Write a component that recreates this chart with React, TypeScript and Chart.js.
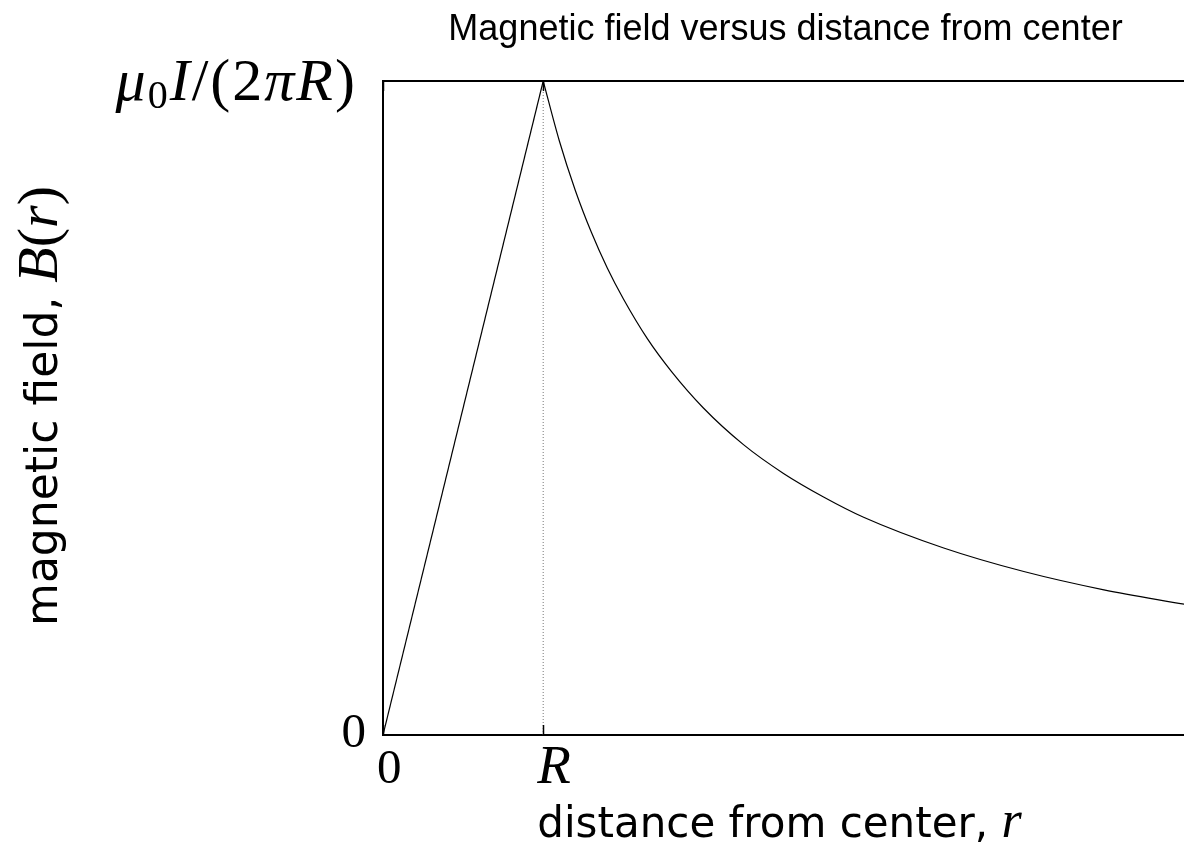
import { useEffect, useRef } from "react";
import { Chart, registerables } from "chart.js";

Chart.register(...registerables);

// Inside the wire: distance from the axis (units of R) and field (units of mu0 I / (2 pi R))
const insideRadius = [0, 1];
const insideField = [0, 1];

// Outside the wire
const outsideRadius = [1, 1.1, 1.2, 1.3, 1.4, 1.5, 1.65, 1.8, 2, 2.25, 2.5, 2.75, 3, 3.5, 4, 4.5, 5];
const outsideField = [1, 0.909, 0.833, 0.769, 0.714, 0.667, 0.606, 0.556, 0.5, 0.444, 0.4, 0.364, 0.333, 0.286, 0.25, 0.222, 0.2];

// Marker for the wire surface
const surfaceRadius = [1, 1];
const surfaceField = [0, 1];

const xRange = [0, 5];
const yRange = [0, 1];
const xTickValues = [0, 1];
const yTickValues = [0, 1];

type Run = { t: string; font: string; dy?: number };

const SERIF = '"Liberation Serif", serif';
const SANS = '"DejaVu Sans", sans-serif';
const TITLE_FONT = '36px "Liberation Sans", Arial, sans-serif';

const xTickLabels: Run[][] = [
  [{ t: "0", font: `49px ${SERIF}` }],
  [{ t: "R", font: `italic 55px ${SERIF}` }],
];

const yTickLabels: Run[][] = [
  [{ t: "0", font: `49px ${SERIF}` }],
  [
    { t: "μ", font: `italic 60px ${SERIF}` },
    { t: "0", font: `40px ${SERIF}`, dy: 8 },
    { t: "I", font: `italic 60px ${SERIF}` },
    { t: "/", font: `60px ${SERIF}` },
    { t: "(", font: `60px ${SERIF}` },
    { t: "2", font: `60px ${SERIF}` },
    { t: "π", font: `italic 60px ${SERIF}` },
    { t: "R", font: `italic 60px ${SERIF}` },
    { t: ")", font: `60px ${SERIF}` },
  ],
];

const titleText = "Magnetic field versus distance from center";

const xAxisTitle: Run[] = [
  { t: "distance from center, ", font: `42px ${SANS}` },
  { t: "r", font: `italic 52px ${SERIF}` },
];

const yAxisTitle: Run[] = [
  { t: "magnetic field, ", font: `44px ${SANS}` },
  { t: "B", font: `italic 58px ${SERIF}` },
  { t: "(", font: `58px ${SERIF}` },
  { t: "r", font: `italic 58px ${SERIF}` },
  { t: ")", font: `58px ${SERIF}` },
];

function runsWidth(ctx: CanvasRenderingContext2D, runs: Run[], gap = 0) {
  let w = 0;
  runs.forEach((r, i) => {
    ctx.font = r.font;
    w += ctx.measureText(r.t).width + (i > 0 ? gap : 0);
  });
  return w;
}

function drawRuns(
  ctx: CanvasRenderingContext2D,
  runs: Run[],
  x: number,
  y: number,
  align: "left" | "center" | "right",
  gap = 0
) {
  const w = runsWidth(ctx, runs, gap);
  let cx = align === "left" ? x : align === "center" ? x - w / 2 : x - w;
  ctx.textAlign = "left";
  ctx.textBaseline = "alphabetic";
  runs.forEach((r, i) => {
    if (i > 0) cx += gap;
    ctx.font = r.font;
    ctx.fillText(r.t, cx, y + (r.dy || 0));
    cx += ctx.measureText(r.t).width;
  });
}

const decorations = {
  id: "decorations",
  afterDraw(chart: any) {
    const { ctx, chartArea: a, scales } = chart;
    const xs = scales.x;
    const ys = scales.y;
    ctx.save();
    ctx.fillStyle = "#000";
    ctx.strokeStyle = "#000";

    // top frame line
    ctx.lineWidth = 2;
    ctx.beginPath();
    ctx.moveTo(a.left, a.top);
    ctx.lineTo(a.right, a.top);
    ctx.stroke();

    // inward tick marks on the bottom and top edges
    ctx.lineWidth = 1.5;
    xTickValues.forEach((v) => {
      const px = Math.round(xs.getPixelForValue(v)) + 0.5;
      ctx.beginPath();
      ctx.moveTo(px, a.bottom);
      ctx.lineTo(px, a.bottom - 10);
      ctx.moveTo(px, a.top);
      ctx.lineTo(px, a.top + 10);
      ctx.stroke();
    });

    // x tick labels
    xTickValues.forEach((v, i) => {
      const px = xs.getPixelForValue(v);
      drawRuns(ctx, xTickLabels[i], px - 6, a.bottom + 48, "left");
    });

    // y tick labels
    yTickValues.forEach((v, i) => {
      const py = ys.getPixelForValue(v);
      const lab = yTickLabels[i];
      if (lab.length > 1) {
        drawRuns(ctx, lab, a.left - 28, py + 19, "right", 2);
      } else {
        drawRuns(ctx, lab, a.left - 17, py + 12, "right");
      }
    });

    // chart title
    ctx.font = TITLE_FONT;
    ctx.textAlign = "center";
    ctx.textBaseline = "alphabetic";
    const midX = (a.left + a.right) / 2;
    ctx.fillText(titleText, midX + 2, 40);

    // x axis title
    drawRuns(ctx, xAxisTitle, midX - 4, a.bottom + 102, "center");

    // y axis title, rotated
    const midY = (a.top + a.bottom) / 2;
    ctx.translate(57, midY - 2);
    ctx.rotate(-Math.PI / 2);
    drawRuns(ctx, yAxisTitle, 0, 0, "center");

    ctx.restore();
  },
};

export default function App() {
  const canvasRef = useRef<HTMLCanvasElement | null>(null);

  useEffect(() => {
    const canvas = canvasRef.current;
    if (!canvas) return;
    const chart = new Chart(canvas, {
      type: "line",
      data: {
        datasets: [
          {
            label: "B(r), r < R",
            data: insideRadius.map((r, i) => ({ x: r, y: insideField[i] })),
            borderColor: "#000",
            borderWidth: 1.2,
            pointRadius: 0,
            tension: 0,
          },
          {
            label: "B(r), r > R",
            data: outsideRadius.map((r, i) => ({ x: r, y: outsideField[i] })),
            borderColor: "#000",
            borderWidth: 1.2,
            pointRadius: 0,
            cubicInterpolationMode: "monotone",
          },
          {
            label: "r = R",
            data: surfaceRadius.map((r, i) => ({ x: r, y: surfaceField[i] })),
            borderColor: "#777",
            borderWidth: 1,
            borderDash: [1, 2],
            pointRadius: 0,
          },
        ],
      },
      options: {
        animation: false,
        responsive: false,
        devicePixelRatio: 1,
        layout: { padding: { left: 383, right: 0, top: 81, bottom: 120 } },
        plugins: {
          legend: { display: false },
          title: { display: false },
          tooltip: { enabled: false },
        },
        scales: {
          x: {
            type: "linear",
            min: xRange[0],
            max: xRange[1],
            grid: { display: false, drawTicks: false },
            ticks: { display: false },
            border: { display: true, color: "#000", width: 2 },
            afterFit: (s: any) => {
              s.height = 0;
            },
          },
          y: {
            type: "linear",
            min: yRange[0],
            max: yRange[1],
            grid: { display: false, drawTicks: false },
            ticks: { display: false },
            border: { display: true, color: "#000", width: 2 },
            afterFit: (s: any) => {
              s.width = 0;
            },
          },
        },
      },
      plugins: [decorations],
    });
    return () => chart.destroy();
  }, []);

  return (
    <div style={{ position: "absolute", left: 0, top: 0, width: 1184, height: 855, background: "#fff" }}>
      <canvas ref={canvasRef} width={1184} height={855} />
    </div>
  );
}
